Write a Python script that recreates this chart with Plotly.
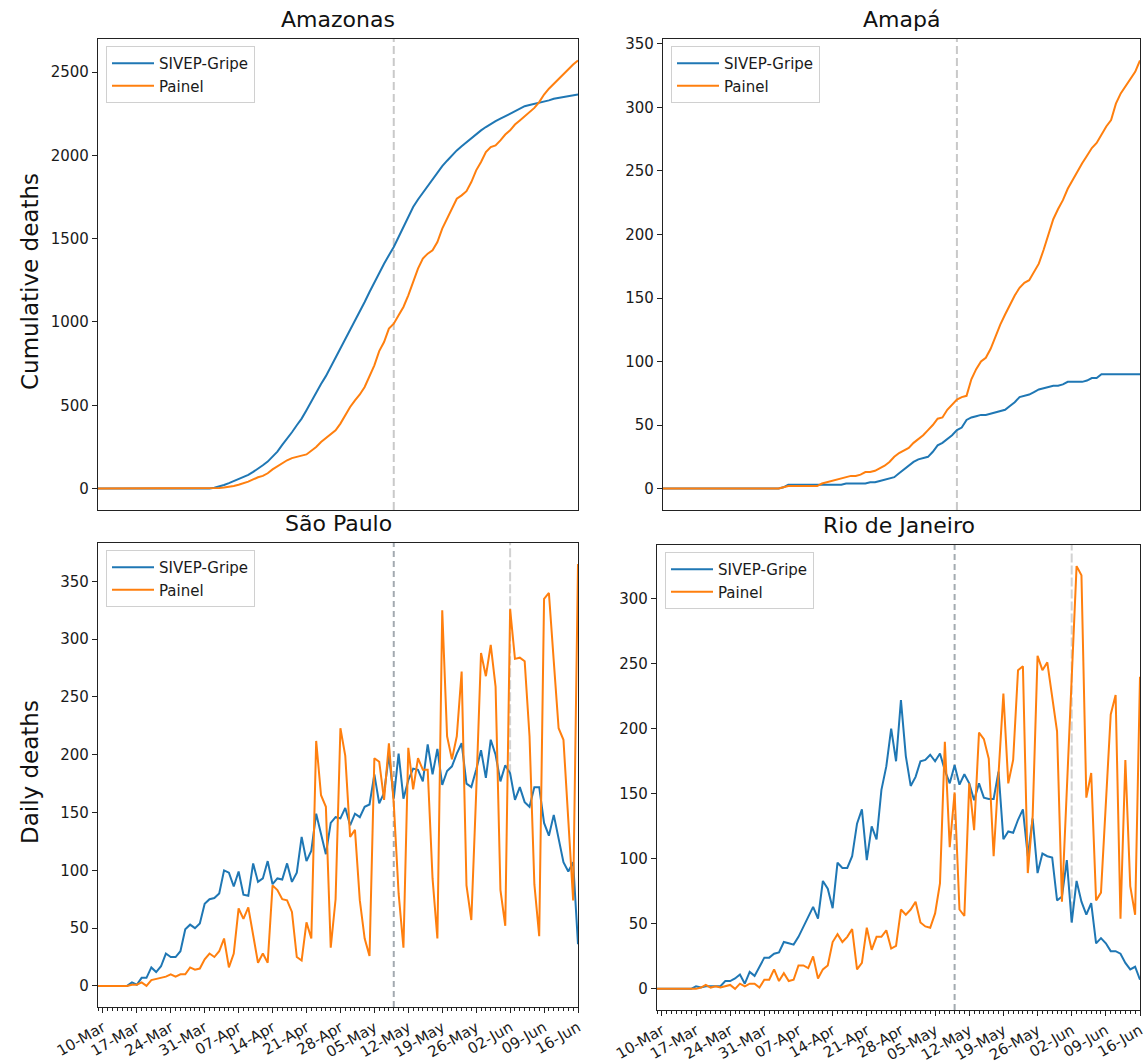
import pandas as pd
import plotly.graph_objects as go

# ---------------- data ----------------
start_date = "2020-03-09"
n_days = 100
dates = pd.date_range(start_date, periods=n_days)

cutoff_date = "2020-05-09"
second_mark_date = "2020-06-02"

series_names = ["SIVEP-Gripe", "Painel"]
panel_titles = ["Amazonas", "Amapá", "São Paulo", "Rio de Janeiro"]
row_labels = ["Cumulative deaths", "Daily deaths"]

amazonas_sivep = [0]*23 + [
    1, 5, 12, 22, 33, 46, 58, 70, 82, 100, 118, 140, 162, 190, 222, 262, 298, 338, 380, 420,
    470, 525, 580, 628, 675, 730, 790, 845, 900, 955, 1010, 1065, 1120, 1180, 1240, 1300, 1350, 1400,
    1450, 1510, 1570, 1640, 1690, 1735, 1775, 1818, 1860, 1900, 1935, 1968, 2000, 2030, 2055, 2080,
    2105, 2128, 2150, 2170, 2190, 2205, 2220, 2235, 2250, 2268, 2285, 2295, 2302, 2308, 2315, 2322,
    2330, 2340, 2345, 2350, 2355, 2360, 2365]
amazonas_painel = [0]*24 + [
    1, 3, 6, 10, 16, 23, 32, 42, 55, 68, 76, 92, 115, 135, 152, 170, 183, 192, 198, 205, 225, 250,
    280, 305, 325, 350, 390, 440, 490, 530, 565, 610, 670, 740, 825, 880, 960, 990, 1040, 1090, 1160,
    1240, 1320, 1380, 1410, 1430, 1480, 1560, 1620, 1680, 1740, 1760, 1785, 1840, 1910, 1960, 2020,
    2050, 2060, 2090, 2125, 2150, 2185, 2210, 2235, 2258, 2285, 2320, 2365, 2400, 2430, 2460, 2490,
    2515, 2545, 2570]

amapa_sivep = [0]*25 + [
    1, 3, 3, 3, 3, 3, 3, 3, 3, 3, 3, 3, 3, 4, 4, 4, 4, 4, 5, 5, 6, 7, 8, 9, 12, 15, 18, 21, 23, 24,
    25, 29, 34, 36, 39, 42, 46, 48, 54, 56, 57, 58, 58, 59, 60, 61, 62, 65, 68, 72, 73, 74, 76, 78,
    79, 80, 81, 81, 82, 84, 84, 84, 84, 85, 87, 87, 90, 90, 90, 90, 90, 90, 90, 90, 90]
amapa_painel = [0]*25 + [
    1, 2, 2, 2, 2, 2, 2, 2, 4, 5, 6, 7, 8, 9, 10, 10, 11, 13, 13, 14, 16, 18, 21, 25, 28, 30, 32,
    36, 39, 42, 46, 50, 55, 56, 62, 66, 70, 72, 73, 86, 94, 100, 103, 110, 120, 129, 137, 145, 152,
    158, 162, 164, 170, 177, 188, 200, 212, 220, 227, 236, 243, 250, 256, 262, 268, 272, 279, 285,
    290, 303, 311, 317, 323, 328, 337]

sp_sivep = [0]*7 + [
    3, 1, 7, 7, 16, 12, 17, 28, 25, 25, 30, 49, 53, 50, 54, 71, 75, 76, 80, 100, 98, 86, 99, 79,
    78, 106, 90, 93, 108, 88, 93, 92, 106, 90, 98, 129, 108, 117, 149, 130, 114, 141, 146, 145, 154,
    139, 149, 146, 155, 157, 183, 158, 167, 200, 162, 201, 162, 178, 188, 187, 177, 209, 183, 205,
    174, 186, 190, 201, 210, 175, 172, 187, 204, 180, 213, 200, 177, 191, 184, 161, 172, 159, 155,
    172, 172, 141, 130, 148, 126, 107, 99, 107, 36]
sp_painel = [0]*7 + [
    1, 1, 3, 0, 5, 6, 7, 8, 10, 8, 10, 10, 16, 14, 15, 23, 28, 25, 30, 41, 16, 28, 67, 58, 68, 45,
    20, 28, 20, 87, 83, 75, 74, 64, 25, 22, 55, 41, 212, 165, 155, 33, 75, 223, 199, 129, 135, 74,
    41, 26, 197, 194, 161, 210, 158, 80, 33, 206, 170, 197, 187, 187, 93, 41, 325, 216, 196, 216,
    272, 87, 57, 167, 288, 268, 295, 259, 83, 52, 326, 283, 284, 281, 216, 88, 43, 335, 340, 281,
    223, 213, 141, 74, 365]

rj_sivep = [0]*8 + [
    2, 1, 2, 2, 2, 2, 6, 6, 8, 11, 4, 13, 10, 17, 24, 24, 27, 28, 36, 35, 34, 40, 48, 56, 63, 54,
    83, 77, 62, 97, 93, 93, 102, 127, 138, 99, 125, 115, 153, 171, 200, 175, 222, 179, 156, 163,
    175, 176, 180, 175, 181, 168, 158, 172, 157, 165, 158, 145, 158, 147, 146, 146, 167, 115, 121,
    120, 130, 138, 102, 131, 89, 104, 102, 101, 68, 71, 99, 51, 83, 67, 57, 66, 35, 39, 35, 29, 29,
    27, 20, 15, 17, 7]
rj_painel = [0]*9 + [
    1, 3, 1, 2, 1, 2, 3, 0, 4, 2, 4, 4, 1, 7, 7, 15, 6, 12, 6, 7, 18, 18, 16, 25, 8, 15, 18, 36, 42,
    36, 40, 46, 15, 20, 47, 30, 40, 40, 45, 31, 33, 61, 57, 61, 67, 51, 48, 47, 58, 81, 190, 109,
    151, 61, 56, 158, 122, 197, 192, 177, 102, 165, 227, 158, 176, 245, 248, 89, 133, 256, 245, 251,
    225, 198, 67, 153, 238, 325, 318, 147, 166, 68, 74, 145, 211, 226, 54, 176, 79, 57, 240]

amazonas_yticks = [0, 500, 1000, 1500, 2000, 2500]
amapa_yticks = [0, 50, 100, 150, 200, 250, 300, 350]
sp_yticks = [0, 50, 100, 150, 200, 250, 300, 350]
rj_yticks = [0, 50, 100, 150, 200, 250, 300]

# ---------------- styling / layout ----------------
W, H = 1145, 1063
BLUE = "#1f77b4"
ORANGE = "#ff7f0e"
FONT = "DejaVu Sans"


def px_x(p):
    return p / W


def px_y(p):
    return 1 - p / H


# axes boxes in pixels (left, right, top, bottom)
boxes = [
    (98, 578, 39, 510),
    (663, 1140, 39, 510),
    (98, 578, 543, 1007),
    (657, 1140, 545, 1010),
]

panels = [
    (amazonas_sivep, amazonas_painel, amazonas_yticks),
    (amapa_sivep, amapa_painel, amapa_yticks),
    (sp_sivep, sp_painel, sp_yticks),
    (rj_sivep, rj_painel, rj_yticks),
]

fig = go.Figure()
layout = dict(
    template="none",
    width=W, height=H, autosize=False,
    margin=dict(l=0, r=0, t=0, b=0, pad=0, autoexpand=False),
    paper_bgcolor="white", plot_bgcolor="white",
    font=dict(family=FONT, color="#1a1a1a", size=15),
    shapes=[], annotations=[],
)

x_range = [dates[0], dates[-1]]

for i, ((sivep, painel, yticks), box) in enumerate(zip(panels, boxes)):
    k = i + 1
    xa = "x" if k == 1 else f"x{k}"
    ya = "y" if k == 1 else f"y{k}"
    leg = "legend" if k == 1 else f"legend{k}"
    for vals, name, color in ((sivep, series_names[0], BLUE), (painel, series_names[1], ORANGE)):
        fig.add_trace(go.Scatter(
            x=dates, y=vals, mode="lines", name=name,
            line=dict(color=color, width=2),
            xaxis=xa, yaxis=ya, legend=leg, showlegend=True,
        ))
    top = max(max(sivep), max(painel))
    pad = 0.05 * top
    l, r, t, b = box
    bottom_row = i >= 2
    xaxis = dict(
        domain=[px_x(l), px_x(r)], anchor=ya, type="date", range=x_range,
        showline=True, mirror=True, linecolor="#222", linewidth=1.2,
        showgrid=False, zeroline=False, automargin=False,
    )
    if bottom_row:
        xaxis.update(
            tick0="2020-03-10", dtick=7 * 86400000, tickformat="%d-%b",
            tickangle=-30, ticks="outside", ticklen=5, tickcolor="#222",
            ticklabeloverflow="allow",
            tickfont=dict(size=15, family=FONT, color="#1a1a1a"),
            minor=dict(dtick=86400000, ticks="outside", ticklen=2.5, tickcolor="#222"),
        )
    else:
        xaxis.update(showticklabels=False, ticks="")
    yaxis = dict(
        domain=[px_y(b), px_y(t)], anchor=xa, range=[-pad, top + pad],
        tickvals=yticks, ticks="outside", ticklen=5, tickcolor="#222",
        showline=True, mirror=True, linecolor="#222", linewidth=1.2,
        showgrid=False, zeroline=False, automargin=False,
        tickfont=dict(size=15, family=FONT, color="#1a1a1a"),
    )
    layout["xaxis" if k == 1 else f"xaxis{k}"] = xaxis
    layout["yaxis" if k == 1 else f"yaxis{k}"] = yaxis

    # legend box (upper left)
    layout[leg] = dict(
        x=px_x(l + 8), y=px_y(t + 7), xanchor="left", yanchor="top",
        bgcolor="rgba(255,255,255,0.85)", bordercolor="#d0d0d0", borderwidth=1,
        font=dict(size=15, family=FONT, color="#1a1a1a"),
        tracegroupgap=0, itemwidth=42,
    )

    # vertical reference line at cutoff date
    layout["shapes"].append(dict(
        type="line", xref=xa, yref=f"{ya} domain", x0=cutoff_date, x1=cutoff_date, y0=0, y1=1,
        line=dict(color="#c9c9c9" if not bottom_row else "#a3aab0", width=2,
                  dash="8px,4px" if not bottom_row else "6px,4px"),
        layer="below",
    ))
    if bottom_row:
        idx = list(dates.strftime("%Y-%m-%d")).index(second_mark_date)
        layout["shapes"].append(dict(
            type="line", xref=xa, yref=ya, x0=second_mark_date, x1=second_mark_date,
            y0=sivep[idx], y1=top + pad,
            line=dict(color="#d2d2d2", width=2, dash="9px,3px"),
            layer="below",
        ))

    # panel title
    layout["annotations"].append(dict(
        text=panel_titles[i], xref="paper", yref="paper",
        x=px_x((l + r) / 2), y=px_y(t - 5), xanchor="center", yanchor="bottom",
        showarrow=False, font=dict(size=22, family=FONT, color="#111"),
    ))

for label, yc in zip(row_labels, [282, 772]):
    layout["annotations"].append(dict(
        text=label, xref="paper", yref="paper", x=px_x(30), y=px_y(yc),
        xanchor="center", yanchor="middle", textangle=-90, showarrow=False,
        font=dict(size=23, family=FONT, color="#111"),
    ))

fig.update_layout(**layout)
fig.write_html("out.html", config={"displayModeBar": False},
               post_script="document.body.style.margin='0px';")
